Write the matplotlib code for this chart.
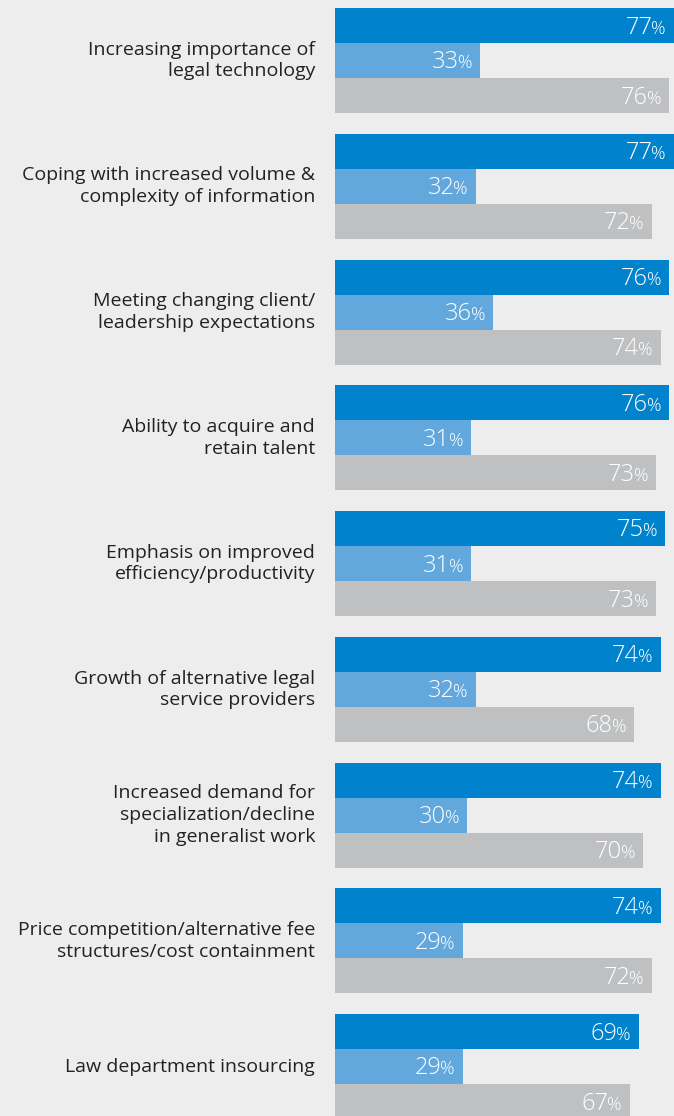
import matplotlib
matplotlib.use('Agg')
import matplotlib.pyplot as plt

categories = [
    'Increasing importance of\nlegal technology',
    'Coping with increased volume &\ncomplexity of information',
    'Meeting changing client/\nleadership expectations',
    'Ability to acquire and\nretain talent',
    'Emphasis on improved\nefficiency/productivity',
    'Growth of alternative legal\nservice providers',
    'Increased demand for\nspecialization/decline\nin generalist work',
    'Price competition/alternative fee\nstructures/cost containment',
    'Law department insourcing',
]
dark_vals = [77, 77, 76, 76, 75, 74, 74, 74, 69]
light_vals = [33, 32, 36, 31, 31, 32, 30, 29, 29]
gray_vals = [76, 72, 74, 73, 73, 68, 70, 72, 67]

colors = ['#0083cc', '#62a8dc', '#bfc0c2']
bg = '#ededed'

plt.rcParams['font.family'] = ['Open Sans', 'DejaVu Sans']

W, H = 674, 1116
fig = plt.figure(figsize=(W / 100, H / 100), dpi=100, facecolor=bg)
ax = fig.add_axes([335 / W, 0, 1 - 335 / W, 1])
ax.set_facecolor(bg)
ax.set_axis_off()

bar_px = 35.0
pitch = 125.75 / bar_px
top = -0.5 - 8 / bar_px
ax.set_ylim(top + H / bar_px, top)
ax.set_xlim(0, (W - 335) / 4.4)

fig.canvas.draw()
renderer = fig.canvas.get_renderer()

# width of the small % sign, so the number sits right before it
probe = fig.text(0, 0, '%', fontsize=13, fontweight='light')
pct_w = probe.get_window_extent(renderer).width
probe.remove()

for i, cat in enumerate(categories):
    base = i * pitch
    for j, vals in enumerate([dark_vals, light_vals, gray_vals]):
        y = base + j
        v = vals[i]
        ax.barh(y, v, height=1.0, color=colors[j], linewidth=0)
        ax.annotate('%', xy=(v, y), xytext=(-8, -8), textcoords='offset pixels',
                    ha='right', va='baseline', color='white',
                    fontsize=13, fontweight='light')
        ax.annotate(str(v), xy=(v, y), xytext=(-7 - pct_w, -8), textcoords='offset pixels',
                    ha='right', va='baseline', color='white',
                    fontsize=17, fontweight='light')
    ax.annotate(cat, xy=(0, base + 1), xytext=(-20, 0), textcoords='offset pixels',
                ha='right', va='center', color='#222222', fontsize=14,
                linespacing=1.25, annotation_clip=False)

fig.savefig('out.png', dpi=100, facecolor=bg)
